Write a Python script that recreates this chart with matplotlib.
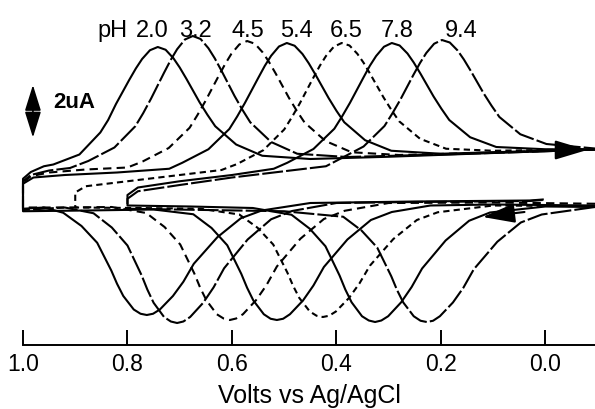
import numpy as np
import matplotlib
matplotlib.use('Agg')
import matplotlib.pyplot as plt

plt.rcParams['font.family'] = ['Liberation Sans', 'DejaVu Sans']

# ---------- dados (V vs Ag/AgCl, corrente em uA) ----------

ph_labels = ['2.0', '3.2', '4.5', '5.4', '6.5', '7.8', '9.4']

# ramo anódico (varredura de alto para baixo potencial)
ox_v = [
    [1.0, 0.985, 0.96, 0.942, 0.892, 0.852, 0.837, 0.822, 0.797, 0.784, 0.772, 0.757, 0.742, 0.727, 0.712, 0.700, 0.687, 0.662, 0.647, 0.632, 0.592, 0.542, 0.45, 0.3, 0.1, -0.095],
    [1.0, 0.985, 0.95, 0.91, 0.875, 0.825, 0.785, 0.77, 0.755, 0.73, 0.717, 0.705, 0.69, 0.675, 0.66, 0.645, 0.633, 0.62, 0.595, 0.58, 0.565, 0.525, 0.475, 0.38, 0.2, 0.0, -0.095],
    [1.0, 0.985, 0.95, 0.88, 0.8, 0.771, 0.721, 0.681, 0.666, 0.651, 0.626, 0.613, 0.601, 0.586, 0.571, 0.556, 0.541, 0.529, 0.516, 0.491, 0.476, 0.461, 0.421, 0.371, 0.28, 0.1, -0.095],
    [1.0, 0.98, 0.92, 0.82, 0.72, 0.695, 0.645, 0.605, 0.59, 0.575, 0.55, 0.537, 0.525, 0.51, 0.495, 0.48, 0.465, 0.453, 0.44, 0.415, 0.40, 0.385, 0.345, 0.295, 0.2, 0.05, -0.095],
    [0.9, 0.88, 0.8, 0.7, 0.62, 0.59, 0.54, 0.5, 0.485, 0.47, 0.445, 0.432, 0.42, 0.405, 0.39, 0.375, 0.36, 0.348, 0.335, 0.31, 0.295, 0.28, 0.24, 0.19, 0.1, -0.095],
    [0.8, 0.78, 0.7, 0.6, 0.52, 0.494, 0.444, 0.404, 0.389, 0.374, 0.349, 0.336, 0.324, 0.309, 0.294, 0.279, 0.264, 0.252, 0.239, 0.214, 0.199, 0.184, 0.144, 0.094, 0.0, -0.095],
    [0.8, 0.78, 0.7, 0.6, 0.5, 0.42, 0.398, 0.348, 0.308, 0.293, 0.278, 0.253, 0.24, 0.228, 0.213, 0.198, 0.183, 0.168, 0.156, 0.143, 0.118, 0.103, 0.088, 0.048, -0.002, -0.095],
]
ox_i = [
    [0.45, 0.72, 0.95, 1.02, 1.42, 2.3, 2.8, 3.44, 4.39, 4.86, 5.24, 5.59, 5.72, 5.61, 5.27, 4.90, 4.44, 3.51, 3.01, 2.55, 1.82, 1.37, 1.24, 1.33, 1.48, 1.62],
    [0.35, 0.6, 0.78, 0.88, 1.16, 1.70, 2.55, 3.07, 3.65, 4.69, 5.21, 5.63, 6.02, 6.16, 6.04, 5.67, 5.27, 4.77, 3.76, 3.21, 2.71, 1.92, 1.45, 1.32, 1.42, 1.55, 1.62],
    [0.3, 0.55, 0.7, 0.82, 0.9, 1.14, 1.68, 2.49, 3.0, 3.55, 4.54, 5.04, 5.45, 5.82, 5.96, 5.85, 5.50, 5.12, 4.65, 3.69, 3.17, 2.70, 1.96, 1.51, 1.40, 1.50, 1.62],
    [0.25, 0.5, 0.6, 0.7, 0.85, 1.09, 1.63, 2.44, 2.94, 3.49, 4.47, 4.97, 5.37, 5.74, 5.88, 5.77, 5.44, 5.07, 4.61, 3.68, 3.17, 2.71, 1.99, 1.57, 1.45, 1.54, 1.62],
    [-0.1, 0.15, 0.35, 0.6, 0.8, 1.04, 1.59, 2.42, 2.92, 3.47, 4.46, 4.96, 5.36, 5.73, 5.88, 5.78, 5.45, 5.09, 4.63, 3.71, 3.21, 2.75, 2.05, 1.65, 1.57, 1.63],
    [-0.2, 0.1, 0.35, 0.6, 0.85, 1.09, 1.64, 2.45, 2.95, 3.49, 4.47, 4.97, 5.36, 5.73, 5.88, 5.78, 5.46, 5.10, 4.65, 3.74, 3.25, 2.80, 2.11, 1.72, 1.63, 1.62],
    [-0.35, -0.05, 0.2, 0.5, 0.75, 0.95, 1.19, 1.74, 2.56, 3.06, 3.60, 4.59, 5.08, 5.48, 5.85, 6.0, 5.90, 5.58, 5.22, 4.77, 3.86, 3.37, 2.92, 2.23, 1.84, 1.66],
]

# ramo catódico (varredura de baixo para alto potencial)
red_v = [
    [0.005, 0.03, 0.25, 0.45, 0.543, 0.583, 0.628, 0.673, 0.693, 0.713, 0.738, 0.751, 0.763, 0.775, 0.788, 0.808, 0.82, 0.831, 0.858, 0.888, 0.923, 0.96, 1.0],
    [0.005, 0.03, 0.25, 0.4, 0.485, 0.525, 0.57, 0.615, 0.635, 0.655, 0.68, 0.693, 0.705, 0.717, 0.73, 0.75, 0.762, 0.773, 0.8, 0.83, 0.865, 0.92, 0.97, 1.0],
    [-0.095, 0.1, 0.3, 0.384, 0.424, 0.469, 0.514, 0.534, 0.554, 0.579, 0.592, 0.604, 0.616, 0.629, 0.649, 0.661, 0.672, 0.699, 0.729, 0.764, 0.83, 0.92, 1.0],
    [-0.095, 0.1, 0.22, 0.294, 0.334, 0.379, 0.424, 0.444, 0.464, 0.489, 0.502, 0.514, 0.526, 0.539, 0.559, 0.571, 0.582, 0.609, 0.639, 0.674, 0.75, 0.88, 1.0],
    [-0.095, 0.1, 0.206, 0.246, 0.291, 0.336, 0.356, 0.376, 0.401, 0.414, 0.426, 0.438, 0.451, 0.471, 0.483, 0.494, 0.521, 0.551, 0.586, 0.66, 0.78, 0.9],
    [-0.095, 0.0, 0.106, 0.146, 0.191, 0.236, 0.256, 0.276, 0.301, 0.314, 0.326, 0.338, 0.351, 0.371, 0.383, 0.394, 0.421, 0.451, 0.486, 0.56, 0.68, 0.8],
    [-0.095, 0.007, 0.047, 0.092, 0.137, 0.157, 0.177, 0.202, 0.215, 0.227, 0.239, 0.252, 0.272, 0.284, 0.295, 0.322, 0.352, 0.387, 0.5, 0.65, 0.8],
]
red_i = [
    [-0.38, -0.42, -0.46, -0.52, -0.82, -1.13, -1.89, -2.95, -3.67, -4.24, -4.78, -4.95, -5.0, -4.95, -4.78, -4.24, -3.75, -3.22, -2.11, -1.44, -0.91, -0.7, -0.75],
    [-0.4, -0.44, -0.48, -0.52, -0.84, -1.17, -1.98, -3.13, -3.89, -4.51, -5.08, -5.26, -5.32, -5.26, -5.08, -4.51, -3.98, -3.41, -2.22, -1.50, -0.93, -0.7, -0.76, -0.8],
    [-0.55, -0.5, -0.52, -0.83, -1.16, -1.95, -3.06, -3.81, -4.41, -4.97, -5.14, -5.2, -5.14, -4.97, -4.41, -3.90, -3.34, -2.18, -1.48, -0.92, -0.68, -0.7, -0.7],
    [-0.62, -0.58, -0.62, -0.88, -1.20, -1.98, -3.08, -3.82, -4.42, -4.97, -5.15, -5.2, -5.15, -4.97, -4.42, -3.91, -3.36, -2.21, -1.52, -0.97, -0.78, -0.82, -0.85],
    [-0.65, -0.62, -0.89, -1.20, -1.96, -3.03, -3.74, -4.32, -4.86, -5.03, -5.08, -5.03, -4.86, -4.32, -3.83, -3.30, -2.18, -1.51, -0.98, -0.75, -0.72, -0.7],
    [-0.68, -0.66, -0.90, -1.23, -2.02, -3.14, -3.88, -4.49, -5.05, -5.22, -5.28, -5.22, -5.05, -4.49, -3.98, -3.42, -2.25, -1.55, -0.99, -0.72, -0.66, -0.62],
    [-0.68, -0.98, -1.30, -2.07, -3.17, -3.91, -4.50, -5.05, -5.23, -5.28, -5.23, -5.05, -4.50, -4.0, -3.45, -2.30, -1.62, -1.07, -0.85, -0.8, -0.75],
]

x_ticks = [1.0, 0.8, 0.6, 0.4, 0.2, 0.0]

# posições dos rótulos de pH (acima dos picos)
label_v = [0.8278, 0.7531, 0.6708, 0.5694, 0.4756, 0.3818, 0.2842, 0.1617]
estilos = ['-', (0, (10, 1.5)), (0, (4, 2.5)), '-', (0, (3, 2)), '-', (0, (10, 1.5))]


# ---------- figura ----------

fig = plt.figure(figsize=(5.95, 4.09), dpi=100)
ax = fig.add_axes([23 / 595, 64 / 409, 572 / 595, 345 / 409])

for k in range(len(ph_labels)):
    v = np.r_[red_v[k], ox_v[k]]
    i = np.r_[red_i[k], ox_i[k]]
    ax.plot(v, i, color='k', lw=1.5, linestyle=estilos[k], clip_on=False,
            solid_joinstyle='round')

# setas indicando o sentido da varredura
ax.annotate('', xy=(-0.08, 1.6), xytext=(0.0, 1.6),
            arrowprops=dict(arrowstyle='-|>,head_length=2.0,head_width=0.6',
                            color='k', lw=1.5, shrinkA=0, shrinkB=0),
            annotation_clip=False)
ax.annotate('', xy=(0.12, -1.08), xytext=(0.04, -0.88),
            arrowprops=dict(arrowstyle='-|>,head_length=2.0,head_width=0.6',
                            color='k', lw=1.5, shrinkA=0, shrinkB=0),
            annotation_clip=False)

# barra de escala 2 uA
ax.annotate('', xy=(0.981, 4.2), xytext=(0.981, 2.1),
            arrowprops=dict(arrowstyle='<|-|>,head_length=1.6,head_width=0.5',
                            color='k', lw=1.2, shrinkA=0, shrinkB=0),
            annotation_clip=False)
ax.text(0.902, 3.5, '2uA', fontsize=16, fontweight='bold', ha='center', va='center')

for v, t in zip(label_v, ['pH'] + ph_labels):
    ax.text(v, 6.12, t, fontsize=17, ha='center', va='baseline')

ax.set_xlim(1.0, -0.095)
ax.set_ylim(-6.2, 7.6)
for lado in ['left', 'right', 'top']:
    ax.spines[lado].set_visible(False)
ax.spines['bottom'].set_linewidth(1.4)
ax.set_yticks([])
ax.set_xticks(x_ticks)
ax.set_xticklabels([f'{x:.1f}' for x in x_ticks])
ax.tick_params(axis='x', direction='in', length=11, width=1.4, pad=6, labelsize=16.5)
ax.set_xlabel('Volts vs Ag/AgCl', fontsize=18, labelpad=5.5)
ax.patch.set_visible(False)

fig.savefig('out.png', dpi=100)
